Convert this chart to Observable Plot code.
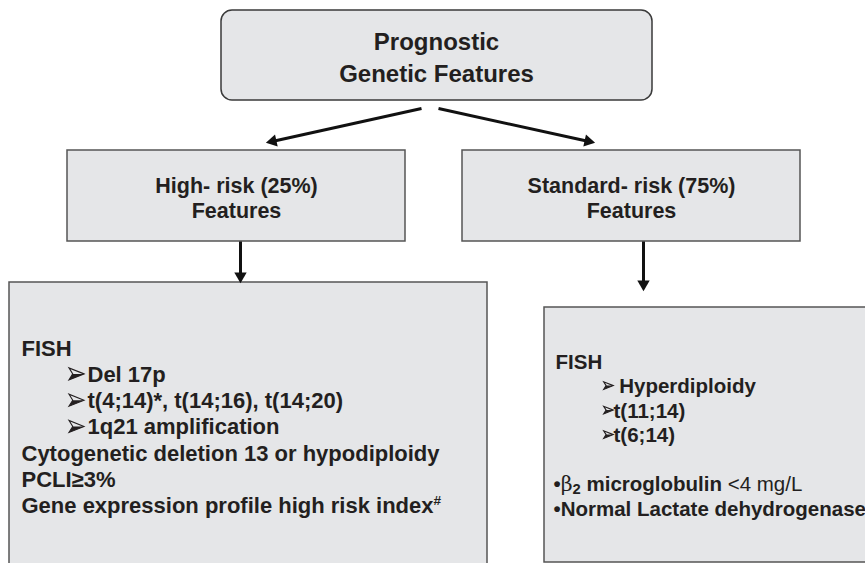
<!DOCTYPE html>
<html><head><meta charset="utf-8">
<script src="https://cdn.jsdelivr.net/npm/d3@7"></script>
<script src="https://cdn.jsdelivr.net/npm/@observablehq/plot@0.6"></script>
<style>
html,body{margin:0;padding:0;background:#fff;overflow:hidden;}
#chart{width:865px;height:563px;overflow:hidden;}
svg text{white-space:pre;}
</style></head><body><div id="chart"></div>
<script>
// ---- content ----
const rootTitle = ["Prognostic", "Genetic Features"];
const highTitle = ["High- risk (25%)", "Features"];
const standardTitle = ["Standard- risk (75%)", "Features"];
// [level, text]: 0 = heading line, 1 = arrow bullet, 2 = dot bullet
const highItems = [
  [0, "FISH"],
  [1, "Del 17p"],
  [1, "t(4;14)*, t(14;16), t(14;20)"],
  [1, "1q21 amplification"],
  [0, "Cytogenetic deletion 13 or hypodiploidy"],
  [0, "PCLI≥3%"],
  [0, "Gene expression profile high risk index#"]
];
const standardItems = [
  [0, "FISH"],
  [1, "\u00a0Hyperdiploidy"],
  [1, "t(11;14)"],
  [1, "t(6;14)"],
  [0, ""],
  [2, "β2 microglobulin <4 mg/L"],
  [2, "Normal Lactate dehydrogenase"]
];

// ---- layout (diagram coordinates, 1 unit = 1 px) ----
const boxes = [
  {id: "root", x1: 221, y1: 10, x2: 652, y2: 100, rounded: true},
  {id: "high", x1: 67, y1: 150, x2: 405, y2: 241},
  {id: "standard", x1: 462, y1: 150, x2: 800, y2: 241},
  {id: "highDetail", x1: 9, y1: 282, x2: 487, y2: 600},
  {id: "standardDetail", x1: 544, y1: 307, x2: 900, y2: 562}
];
const arrows = [
  {x1: 421, y1: 108, x2: 267, y2: 142},
  {x1: 438, y1: 108, x2: 593, y2: 142},
  {x1: 240, y1: 241, x2: 240, y2: 281},
  {x1: 643, y1: 241, x2: 643, y2: 289}
];

const titleRows = [
  ...rootTitle.map((t, i) => ({t, x: 436, base: 49.5 + i * 32, fs: 24})),
  ...highTitle.map((t, i) => ({t, x: 236, base: 192.5 + i * 24.5, fs: 21.5})),
  ...standardTitle.map((t, i) => ({t, x: 631, base: 192.5 + i * 24.5, fs: 21.5}))
];

function itemRows(items, cfg) {
  return items.map(([level, t], i) => ({
    level,
    t: level === 2 ? "•" + t : t,
    x: level === 1 ? cfg.textX : level === 2 ? cfg.bulletX : cfg.x0,
    ax: cfg.arrowX,
    ar: cfg.ar,
    base: cfg.base0 + i * cfg.step,
    fs: cfg.fs
  }));
}
const detailRows = [
  ...itemRows(highItems, {x0: 21, arrowX: 76, ar: 7.5, textX: 87, bulletX: 21, base0: 355, step: 26.3, fs: 22}),
  ...itemRows(standardItems, {x0: 555, arrowX: 608, ar: 4.8, textX: 613, bulletX: 553, base0: 368, step: 24.5, fs: 20.5})
];
const arrowRows = detailRows.filter(d => d.level === 1);

const ink = "#231f20";
const unit = d => { const dx = d.x2 - d.x1, dy = d.y2 - d.y1, L = Math.hypot(dx, dy); return [dx / L, dy / L]; };

// "➢"-like arrowhead glyph symbols
const headOutline = {draw(c, size) { const r = Math.sqrt(size / Math.PI);
  c.moveTo(r, 0); c.lineTo(-r, -0.8 * r); c.lineTo(-0.5 * r, 0); c.lineTo(-r, 0.8 * r); c.closePath(); }};
const headLower = {draw(c, size) { const r = Math.sqrt(size / Math.PI);
  c.moveTo(r, 0); c.lineTo(-0.5 * r, 0); c.lineTo(-r, 0.8 * r); c.closePath(); }};

const chart = Plot.plot({
  width: 865, height: 563, margin: 0,
  x: {domain: [0, 865], range: [0, 865], axis: null},
  y: {domain: [0, 563], range: [0, 563], axis: null},
  r: {type: "identity"},
  style: {fontFamily: "'Liberation Sans', Arial, sans-serif", background: "#fff"},
  marks: [
    Plot.rect(boxes.filter(b => b.rounded), {x1: "x1", x2: "x2", y1: "y1", y2: "y2", fill: "#e5e6e8", stroke: "#3a3a3a", strokeWidth: 1.5, rx: 11}),
    Plot.rect(boxes.filter(b => !b.rounded), {x1: "x1", x2: "x2", y1: "y1", y2: "y2", fill: "#e5e6e8", stroke: "#555", strokeWidth: 1.5}),
    Plot.link(arrows, {
      x1: "x1", y1: "y1",
      x2: d => d.x2 - 7 * unit(d)[0], y2: d => d.y2 - 7 * unit(d)[1],
      stroke: "#111", strokeWidth: 3
    }),
    Plot.dot(arrows, {
      x: d => d.x2 - 5.5 * unit(d)[0], y: d => d.y2 - 5.5 * unit(d)[1],
      symbol: "triangle", r: 4.6, fill: "#111", stroke: "none",
      rotate: d => Math.atan2(unit(d)[0], -unit(d)[1]) * 180 / Math.PI
    }),
    Plot.text(titleRows, {x: "x", y: d => d.base - 0.32 * d.fs, text: "t", fontSize: d => d.fs, fontWeight: "bold", fill: ink, textAnchor: "middle"}),
    Plot.text(detailRows, {x: "x", y: d => d.base - 0.32 * d.fs, text: "t", fontSize: d => d.fs, fontWeight: "bold", fill: ink, textAnchor: "start"}),
    Plot.dot(arrowRows, {x: "ax", y: d => d.base - 0.36 * d.fs, r: "ar", symbol: headOutline, fill: "none", stroke: ink, strokeWidth: 1.1}),
    Plot.dot(arrowRows, {x: "ax", y: d => d.base - 0.36 * d.fs, r: "ar", symbol: headLower, fill: ink, stroke: "none"})
  ]
});

// rich text: sub/superscripts and mixed weights
const NS = "http://www.w3.org/2000/svg";
const rich = {
  "•β2 microglobulin <4 mg/L": [
    {t: "•"},
    {t: "β", w: "normal", f: "'DejaVu Serif', serif"},
    {t: "2", dy: 3, size: "0.72em"},
    {t: " microglobulin", dy: -3},
    {t: " <4 mg/L", w: "normal"}
  ],
  "Gene expression profile high risk index#": [
    {t: "Gene expression profile high risk index"},
    {t: "#", dy: -8, size: "0.62em"}
  ]
};
chart.querySelectorAll("text").forEach(el => {
  const segs = rich[el.textContent];
  if (!segs) return;
  while (el.firstChild) el.removeChild(el.firstChild);
  for (const s of segs) {
    const ts = document.createElementNS(NS, "tspan");
    ts.textContent = s.t;
    if (s.w) ts.setAttribute("font-weight", s.w);
    if (s.f) ts.setAttribute("font-family", s.f);
    if (s.dy) ts.setAttribute("dy", s.dy);
    if (s.size) ts.setAttribute("font-size", s.size);
    el.appendChild(ts);
  }
});

document.getElementById("chart").appendChild(chart);
</script>
</body></html>
